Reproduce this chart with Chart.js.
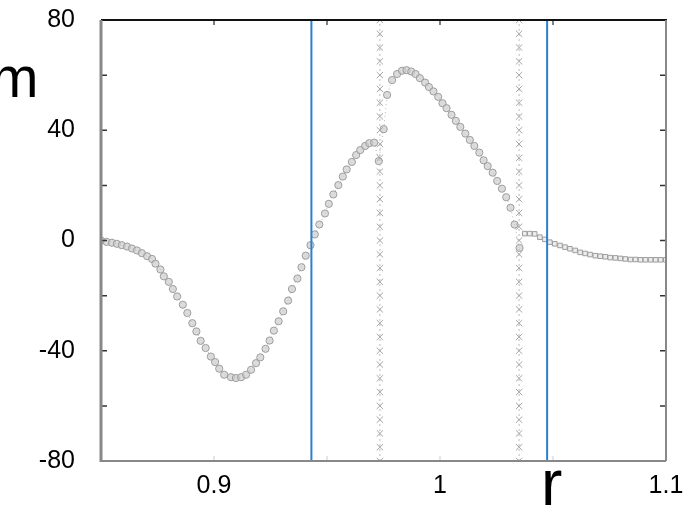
<!DOCTYPE html>
<html>
<head>
<meta charset="utf-8">
<script src="https://cdn.jsdelivr.net/npm/chart.js@4.4.0/dist/chart.umd.min.js"></script>
<style>
    html, body { margin: 0; padding: 0; background: #fff; }
    #wrap { position: relative; width: 692px; height: 509px; overflow: hidden; }
    .lab { position: absolute; font-family: "Liberation Sans", Arial, sans-serif; color: #000; line-height: 1; }
</style>
</head>
<body>
<div id="wrap">
    <canvas id="chart" width="692" height="509"></canvas>
    <div class="lab" style="left:-9px; top:49px; font-size:57px;">m</div>
    <div class="lab" style="left:541px; top:451px; font-size:64px;">r</div>
</div>
<script>
// main curve (circles)
const curveR = [
    0.8500, 0.8525, 0.8548, 0.8570, 0.8592, 0.8615, 0.8637, 0.8659, 0.8681, 0.8704,
    0.8726, 0.8741, 0.8763, 0.8778, 0.8800, 0.8818, 0.8837, 0.8862, 0.8882, 0.8904,
    0.8922, 0.8941, 0.8963, 0.8986, 0.9005, 0.9023, 0.9045, 0.9075, 0.9097, 0.9120,
    0.9142, 0.9164, 0.9186, 0.9205, 0.9228, 0.9246, 0.9265, 0.9286, 0.9306, 0.9328,
    0.9345, 0.9369, 0.9387, 0.9406, 0.9427, 0.9446, 0.9466, 0.9491, 0.9508, 0.9528,
    0.9550, 0.9570, 0.9587, 0.9610, 0.9629, 0.9647, 0.9669, 0.9687, 0.9709, 0.9729,
    0.9751, 0.9766, 0.9788, 0.9810, 0.9832, 0.9852, 0.9873, 0.9892, 0.9911, 0.9934,
    0.9951, 0.9971, 0.9992, 1.0011, 1.0029, 1.0051, 1.0070, 1.0090, 1.0112, 1.0132,
    1.0152, 1.0174, 1.0193, 1.0211, 1.0233, 1.0253, 1.0274, 1.0293, 1.0312, 1.0330,
    1.0352
];
const curveM = [
    0.0, -0.5, -0.8, -1.2, -1.7, -2.2, -2.9, -3.6, -4.6, -5.7,
    -6.7, -8.4, -10.5, -13.0, -15.0, -17.6, -20.3, -23.3, -26.3, -30.0,
    -33.0, -36.4, -39.0, -42.1, -44.1, -46.5, -48.7, -49.6, -49.9, -49.6,
    -48.7, -46.9, -44.5, -42.4, -39.3, -36.3, -32.7, -29.3, -25.7, -21.8,
    -17.6, -13.8, -9.7, -5.5, -1.7, 2.2, 5.8, 9.8, 13.3, 16.7,
    20.1, 23.2, 25.8, 28.5, 31.0, 32.8, 34.3, 35.3, 35.5, 28.8,
    40.4, 52.8, 58.2, 60.4, 61.6, 61.8, 61.3, 60.4, 58.9, 57.3,
    55.7, 54.1, 52.1, 49.8, 48.0, 45.6, 43.4, 41.2, 38.8, 36.5,
    34.3, 31.9, 29.1, 27.0, 24.6, 21.6, 18.8, 15.7, 11.9, 5.8,
    -2.7
];

// tail (squares)
const tailR = [
    1.0375, 1.0397, 1.0419, 1.0442, 1.0464, 1.0486, 1.0508, 1.0531, 1.0553, 1.0575,
    1.0598, 1.0620, 1.0642, 1.0664, 1.0687, 1.0709, 1.0731, 1.0753, 1.0776, 1.0798,
    1.0820, 1.0843, 1.0865, 1.0887, 1.0909, 1.0932, 1.0954, 1.0976, 1.0999
];
const tailM = [
    2.5, 2.5, 2.4, 1.2, 0.4, -0.6, -1.2, -1.8, -2.4, -3.0,
    -3.6, -4.3, -4.7, -5.1, -5.5, -5.7, -5.9, -6.2, -6.3, -6.5,
    -6.7, -6.9, -6.9, -7.0, -7.0, -7.0, -7.0, -7.0, -7.0
];

const blueLinesR = [0.9431, 1.0474];
const crossLinesR = [0.9734, 1.0350];
const crossM = [
    -80, -75, -70, -65, -60, -55, -50, -45, -40, -35, -30, -25, -20, -15, -10, -5, 0,
    5, 10, 15, 20, 25, 30, 35, 40, 45, 50, 55, 60, 65, 70, 75, 80
];

const yLabels = [-80, -40, 0, 40, 80];
const xLabels = [0.9, 1, 1.1];

const FONT = '"Liberation Sans", Arial, sans-serif';

const datasets = [];

blueLinesR.forEach((r) => {
    datasets.push({
        data: [{ x: r, y: -80 }, { x: r, y: 80 }],
        showLine: true,
        borderColor: '#2a7fd0',
        borderWidth: 2,
        pointRadius: 0,
    });
});

crossLinesR.forEach((r) => {
    datasets.push({
        data: crossM.map((m) => ({ x: r, y: m })),
        showLine: true,
        borderColor: '#bdbdbd',
        borderWidth: 1,
        borderDash: [2, 3],
        pointStyle: 'crossRot',
        pointRadius: 4.5,
        pointBorderColor: '#a5a5a5',
        pointBorderWidth: 1,
    });
});

datasets.push({
    data: curveR.map((r, i) => ({ x: r, y: curveM[i] })),
    showLine: true,
    borderColor: '#bbbbbb',
    borderWidth: 1,
    borderDash: [1, 3],
    pointStyle: 'circle',
    pointRadius: 3.6,
    pointBackgroundColor: 'rgba(205,205,205,0.7)',
    pointBorderColor: '#9d9d9d',
    pointBorderWidth: 1,
});

datasets.push({
    data: tailR.map((r, i) => ({ x: r, y: tailM[i] })),
    showLine: false,
    pointStyle: 'rect',
    pointRadius: 3.2,
    pointBackgroundColor: 'rgba(225,225,225,0.6)',
    pointBorderColor: '#9d9d9d',
    pointBorderWidth: 1,
});

// frame and inward tick marks
const framePlugin = {
    id: 'frame',
    afterDatasetsDraw(chart) {
        const { ctx, chartArea: a, scales } = chart;
        ctx.save();
        ctx.lineCap = 'butt';

        ctx.strokeStyle = '#333';
        ctx.lineWidth = 1.5;
        scales.y.ticks.forEach((t) => {
            const y = scales.y.getPixelForValue(t.value);
            ctx.beginPath();
            ctx.moveTo(a.left, y);
            ctx.lineTo(a.left + 6, y);
            ctx.moveTo(a.right, y);
            ctx.lineTo(a.right - 6, y);
            ctx.stroke();
        });
        scales.x.ticks.forEach((t) => {
            const x = scales.x.getPixelForValue(t.value);
            ctx.strokeStyle = '#555';
            ctx.beginPath();
            ctx.moveTo(x, a.top);
            ctx.lineTo(x, a.top + 5);
            ctx.stroke();
            ctx.strokeStyle = '#ddd';
            ctx.beginPath();
            ctx.moveTo(x, a.bottom);
            ctx.lineTo(x, a.bottom - 5);
            ctx.stroke();
        });

        ctx.strokeStyle = '#111';
        ctx.lineWidth = 2;
        ctx.beginPath();
        ctx.moveTo(a.left, a.top);
        ctx.lineTo(a.right + 1, a.top);
        ctx.stroke();

        ctx.strokeStyle = '#888';
        ctx.lineWidth = 2;
        ctx.beginPath();
        ctx.moveTo(a.right, a.top);
        ctx.lineTo(a.right, a.bottom);
        ctx.moveTo(a.left, a.bottom);
        ctx.lineTo(a.right, a.bottom);
        ctx.stroke();

        ctx.lineWidth = 3;
        ctx.beginPath();
        ctx.moveTo(a.left, a.top);
        ctx.lineTo(a.left, a.bottom + 1);
        ctx.stroke();
        ctx.restore();
    },
};

new Chart(document.getElementById('chart'), {
    type: 'scatter',
    data: { datasets },
    options: {
        responsive: false,
        animation: false,
        layout: { padding: { left: 0, top: 20, right: 26, bottom: 0 } },
        plugins: { legend: { display: false }, tooltip: { enabled: false } },
        scales: {
            x: {
                type: 'linear',
                min: 0.85,
                max: 1.1,
                grid: { display: false, drawTicks: false },
                border: { display: false },
                afterFit: (scale) => {
                    scale.height = 48;
                    scale.paddingLeft = 0;
                    scale.paddingRight = 0;
                },
                ticks: {
                    stepSize: 0.05,
                    padding: 10,
                    color: '#000',
                    font: { family: FONT, size: 25 },
                    maxRotation: 0,
                    callback: (v) => {
                        const hit = xLabels.find((l) => Math.abs(l - v) < 1e-6);
                        return hit === undefined ? '' : String(hit);
                    },
                },
            },
            y: {
                min: -80,
                max: 80,
                grid: { display: false, drawTicks: false },
                border: { display: false },
                afterFit: (scale) => {
                    scale.width = 101;
                    scale.paddingTop = 0;
                    scale.paddingBottom = 0;
                },
                ticks: {
                    stepSize: 20,
                    padding: 26,
                    color: '#000',
                    font: { family: FONT, size: 25 },
                    callback: (v) => (yLabels.includes(v) ? String(v) : ''),
                },
            },
        },
    },
    plugins: [framePlugin],
});
</script>
</body>
</html>
